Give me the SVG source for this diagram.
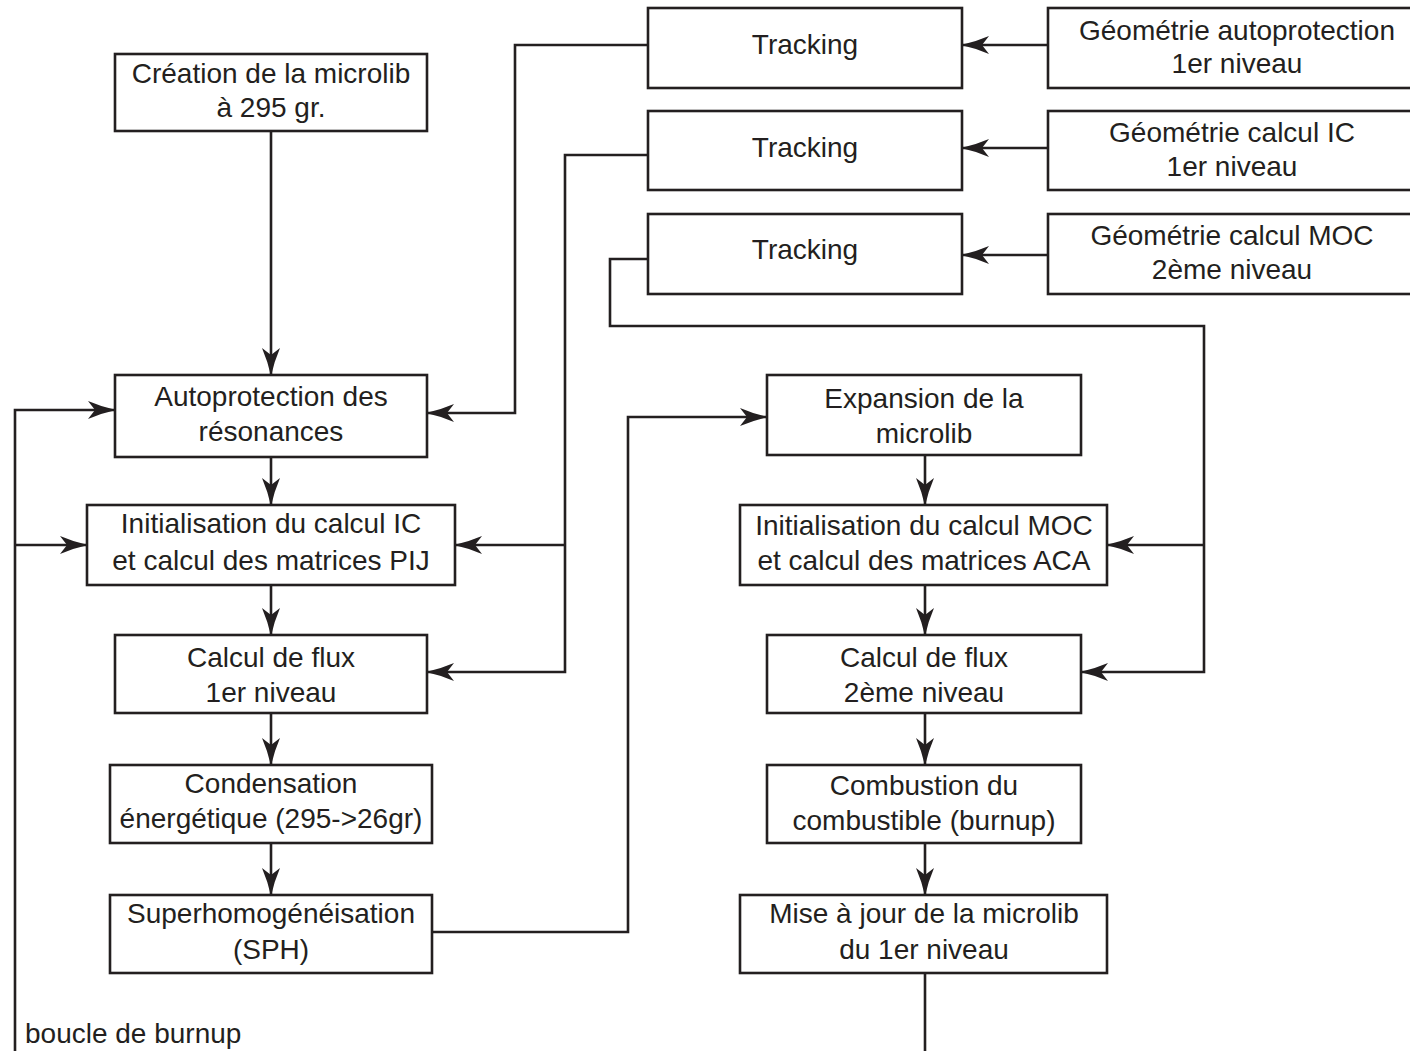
<svg xmlns="http://www.w3.org/2000/svg" width="1410" height="1051" viewBox="0 0 1410 1051">
<style>
rect.box{fill:#fff;stroke:#231f20;stroke-width:2.6}
text{font-family:"Liberation Sans",Arial,sans-serif;font-size:28px;fill:#231f20;text-anchor:middle}
.conn path,.conn line,.conn polyline{fill:none;stroke:#231f20;stroke-width:2.6}
</style>
<defs>
<marker id="ah" viewBox="0 0 28 18" refX="27" refY="9" markerWidth="28" markerHeight="18" markerUnits="userSpaceOnUse" orient="auto">
<path d="M28,9 Q14,6 0,0 L7,9 L0,18 Q14,12 28,9 z" fill="#231f20"/>
</marker>
</defs>
<rect width="1410" height="1051" fill="#fff"/>

<g class="conn">
<line x1="271" y1="131" x2="271" y2="375" marker-end="url(#ah)"/>
<line x1="271" y1="457" x2="271" y2="505" marker-end="url(#ah)"/>
<line x1="271" y1="585" x2="271" y2="635" marker-end="url(#ah)"/>
<line x1="271" y1="713" x2="271" y2="765" marker-end="url(#ah)"/>
<line x1="271" y1="843" x2="271" y2="895" marker-end="url(#ah)"/>
<line x1="925" y1="455" x2="925" y2="505" marker-end="url(#ah)"/>
<line x1="925" y1="585" x2="925" y2="635" marker-end="url(#ah)"/>
<line x1="925" y1="713" x2="925" y2="765" marker-end="url(#ah)"/>
<line x1="925" y1="843" x2="925" y2="895" marker-end="url(#ah)"/>
<line x1="925" y1="973" x2="925" y2="1051"/>
<line x1="1048" y1="45" x2="962" y2="45" marker-end="url(#ah)"/>
<line x1="1048" y1="148" x2="962" y2="148" marker-end="url(#ah)"/>
<line x1="1048" y1="255" x2="962" y2="255" marker-end="url(#ah)"/>
<polyline points="648,45 515,45 515,413 427,413" marker-end="url(#ah)"/>
<polyline points="648,155 565,155 565,672 427,672" marker-end="url(#ah)"/>
<line x1="565" y1="545" x2="455" y2="545" marker-end="url(#ah)"/>
<polyline points="648,259 610,259 610,326 1204,326 1204,672 1081,672" marker-end="url(#ah)"/>
<line x1="1204" y1="545" x2="1107" y2="545" marker-end="url(#ah)"/>
<polyline points="432,932 628,932 628,417 767,417" marker-end="url(#ah)"/>
<polyline points="15,1051 15,410 115,410" marker-end="url(#ah)"/>
<line x1="15" y1="545" x2="87" y2="545" marker-end="url(#ah)"/>
</g>

<g id="creation"><rect class="box" x="115" y="54" width="312" height="77"/><text x="271" y="83">Création de la microlib</text><text x="271" y="117">à 295 gr.</text></g>
<g id="autoprotection"><rect class="box" x="115" y="375" width="312" height="82"/><text x="271" y="406">Autoprotection des</text><text x="271" y="441">résonances</text></g>
<g id="init-ic"><rect class="box" x="87" y="505" width="368" height="80"/><text x="271" y="533">Initialisation du calcul IC</text><text x="271" y="570">et calcul des matrices PIJ</text></g>
<g id="flux1"><rect class="box" x="115" y="635" width="312" height="78"/><text x="271" y="667">Calcul de flux</text><text x="271" y="702">1er niveau</text></g>
<g id="condensation"><rect class="box" x="110" y="765" width="322" height="78"/><text x="271" y="793">Condensation</text><text x="271" y="828">énergétique (295-&gt;26gr)</text></g>
<g id="sph"><rect class="box" x="110" y="895" width="322" height="78"/><text x="271" y="923">Superhomogénéisation</text><text x="271" y="959">(SPH)</text></g>

<g id="expansion"><rect class="box" x="767" y="375" width="314" height="80"/><text x="924" y="408">Expansion de la</text><text x="924" y="443">microlib</text></g>
<g id="init-moc"><rect class="box" x="740" y="505" width="367" height="80"/><text x="924" y="535">Initialisation du calcul MOC</text><text x="924" y="570">et calcul des matrices ACA</text></g>
<g id="flux2"><rect class="box" x="767" y="635" width="314" height="78"/><text x="924" y="667">Calcul de flux</text><text x="924" y="702">2ème niveau</text></g>
<g id="combustion"><rect class="box" x="767" y="765" width="314" height="78"/><text x="924" y="795">Combustion du</text><text x="924" y="830">combustible (burnup)</text></g>
<g id="maj"><rect class="box" x="740" y="895" width="367" height="78"/><text x="924" y="923">Mise à jour de la microlib</text><text x="924" y="959">du 1er niveau</text></g>

<g id="tracking1"><rect class="box" x="648" y="8" width="314" height="80"/><text x="805" y="54">Tracking</text></g>
<g id="tracking2"><rect class="box" x="648" y="111" width="314" height="79"/><text x="805" y="157">Tracking</text></g>
<g id="tracking3"><rect class="box" x="648" y="214" width="314" height="80"/><text x="805" y="259">Tracking</text></g>

<g id="geo1"><rect class="box" x="1048" y="8" width="380" height="80"/><text x="1237" y="40">Géométrie autoprotection</text><text x="1237" y="73">1er niveau</text></g>
<g id="geo2"><rect class="box" x="1048" y="111" width="380" height="79"/><text x="1232" y="142">Géométrie calcul IC</text><text x="1232" y="176">1er niveau</text></g>
<g id="geo3"><rect class="box" x="1048" y="214" width="380" height="80"/><text x="1232" y="245">Géométrie calcul MOC</text><text x="1232" y="279">2ème niveau</text></g>

<text x="25" y="1043" style="text-anchor:start">boucle de burnup</text>
</svg>
